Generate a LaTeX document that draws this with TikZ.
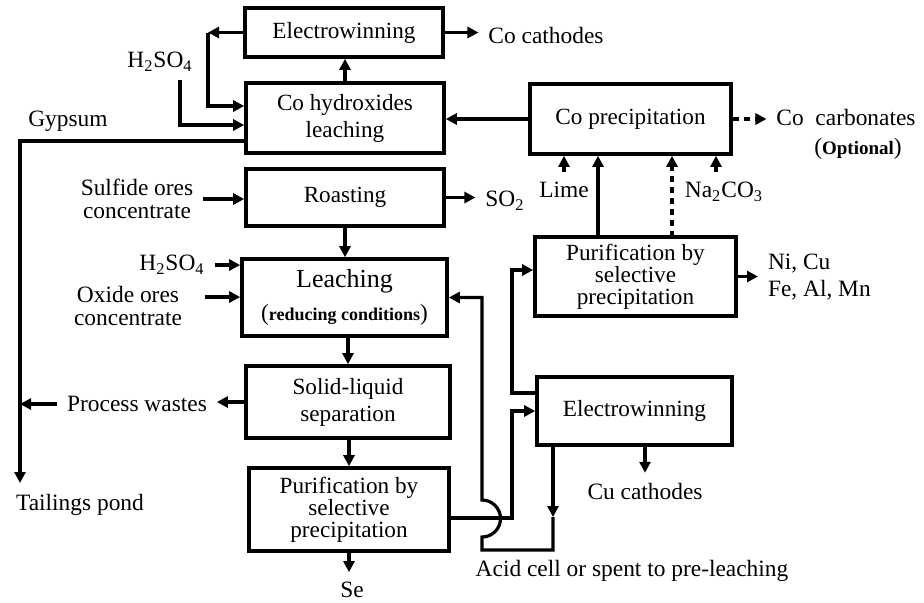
\documentclass[tikz,border=0pt]{standalone}
\usepackage{fontspec}
\setmainfont{Liberation Serif}
\usetikzlibrary{arrows.meta}

\begin{document}
\begin{tikzpicture}[x=0.5pt,y=-0.5pt,
  proc/.style={draw,line width=1.8pt,inner sep=0pt,align=center,font=\fontsize{11.6}{13.5}\selectfont},
  tight/.style={font=\fontsize{11.6}{11}\selectfont},
  lbl/.style={inner sep=3pt,outer sep=2pt,align=center,font=\fontsize{11.7}{11.5}\selectfont},
  arr/.style={line width=1.6pt,-{Triangle[length=5.5pt,width=5.5pt]}},
  line/.style={line width=1.6pt}]
\useasboundingbox (0,0) rectangle (924,602);

\node[proc,minimum width=99pt,minimum height=24.5pt] (ewco) at (344,32.5) {Electrowinning};
\node[proc,minimum width=99pt,minimum height=35pt] (cohl) at (345,118) {Co hydroxides\\leaching};
\node[proc,minimum width=99pt,minimum height=28.5pt] (roast) at (345,197.5) {Roasting};
\node[proc,minimum width=102.5pt,minimum height=38.5pt] (leach) at (344.5,297.5) {{\fontsize{13}{14}\selectfont Leaching}\\[3pt](\textbf{\fontsize{9}{10}\selectfont reducing conditions})};
\node[proc,minimum width=102pt,minimum height=36pt] (sls) at (348,402) {Solid-liquid\\separation};
\node[proc,tight,minimum width=100pt,minimum height=41.5pt] (purb) at (349,509.5) {Purification by\\selective\\precipitation};
\node[proc,minimum width=100.5pt,minimum height=35pt] (coprec) at (630.5,119) {Co precipitation};
\node[proc,tight,minimum width=100.5pt,minimum height=39.5pt] (purr) at (635.5,276.5) {Purification by\\selective\\precipitation};
\node[proc,minimum width=97.5pt,minimum height=34pt] (ewcu) at (634.5,411) {Electrowinning};

\node[lbl] (cocath) at (546,35) {Co cathodes};
\node[lbl] (h2a) at (160,62) {H\textsubscript{2}SO\textsubscript{4}};
\node[lbl] (gyp) at (68,121) {Gypsum};
\node[lbl] (cocarb) at (846,117) {Co~~carbonates};
\node[lbl] (opt) at (858,149) {(\textbf{\fontsize{9.5}{10}\selectfont Optional})};
\node[lbl] (sulf) at (137,199) {Sulfide ores\\concentrate};
\node[lbl] (so2) at (505,201) {SO\textsubscript{2}};
\node[lbl] (lime) at (564,190) {Lime};
\node[lbl] (naco) at (724,192) {Na\textsubscript{2}CO\textsubscript{3}};
\node[lbl] (h2b) at (172,265) {H\textsubscript{2}SO\textsubscript{4}};
\node[lbl] (ox) at (128,306) {Oxide ores\\concentrate};
\node[lbl,anchor=west,align=left] (ni) at (758,277) {Ni, Cu\\[2pt]Fe, Al, Mn};
\node[lbl] (pw) at (137,404) {Process wastes};
\node[lbl] (tail) at (80,505) {Tailings pond};
\node[lbl] (cucath) at (645,491) {Cu cathodes};
\node[lbl] (se) at (352,590) {Se};
\node[lbl] (acid) at (632,571) {Acid cell or spent to pre-leaching};

\coordinate (lp) at (208,32.5);
\coordinate (h2in) at (180,80);
\coordinate (tp) at (20,483);
\coordinate (pu1) at (598,237);
\coordinate (pu2) at (672,237);
\coordinate (na) at (716,172);
\coordinate (oxin) at (205,297);
\coordinate (jx) at (512,411);
\coordinate (k1) at (512,270);
\coordinate (rm) at (553,517);
\coordinate (ra) at (553,550);
\coordinate (rb) at (482,550);

\draw[arr] (cohl.north) -- (cohl.north |- ewco.south);
\draw[arr] (ewco.east) -- (ewco.east -| cocath.west);
\draw[arr] (ewco.west) -- (lp);
\draw[arr] (lp) |- ([yshift=6pt]cohl.west);
\draw[arr] (h2in) |- ([yshift=-3.5pt]cohl.west);
\draw[arr] ([yshift=-11.5pt]cohl.west) -| (tp);
\draw[arr] (coprec.west) -- (coprec.west -| cohl.east);
\draw[arr,dash pattern=on 3pt off 2.5pt] (coprec.east) -- (coprec.east -| cocarb.west);
\draw[arr] (lime.north) -- (lime.north |- coprec.south);
\draw[arr] (pu1) -- (pu1 |- coprec.south);
\draw[arr,dash pattern=on 3pt off 2.5pt] (pu2) -- (pu2 |- coprec.south);
\draw[arr] (na) -- (na |- coprec.south);
\draw[arr] (sulf.east) -- (sulf.east -| roast.west);
\draw[arr] (roast.east) -- (roast.east -| so2.west);
\draw[arr] (roast.south) -- (roast.south |- leach.north);
\draw[arr] (h2b.east) -- (h2b.east -| leach.west);
\draw[arr] (oxin) -- (oxin -| leach.west);
\draw[arr] (sls.north |- leach.south) -- (sls.north);
\draw[arr] (sls.west) -- (sls.west -| pw.east);
\draw[arr] (pw.west) -- (pw.west -| tp);
\draw[arr] (purb.north |- sls.south) -- (purb.north);
\draw[arr] (purb.south) -- (purb.south |- se.north);
\draw[arr] (purr.east) -- (purr.east -| ni.west);
\draw[arr] (cucath.north |- ewcu.south) -- (cucath.north);
\draw[arr] ([yshift=-4.25pt]purb.east) -| (jx) -- (ewcu.west);
\draw[arr] ([yshift=9pt]ewcu.west) -| (k1) -- ([yshift=3.25pt]purr.west);
\draw[arr] (ewcu.south -| rm) -- (rm);
\draw[arr] (rm) -- (ra) -- (rb) -- ++(0,-13) arc[start angle=-90,end angle=90,radius=9.25pt] -- (rb |- leach.east) -- (leach.east);
\end{tikzpicture}
\end{document}
